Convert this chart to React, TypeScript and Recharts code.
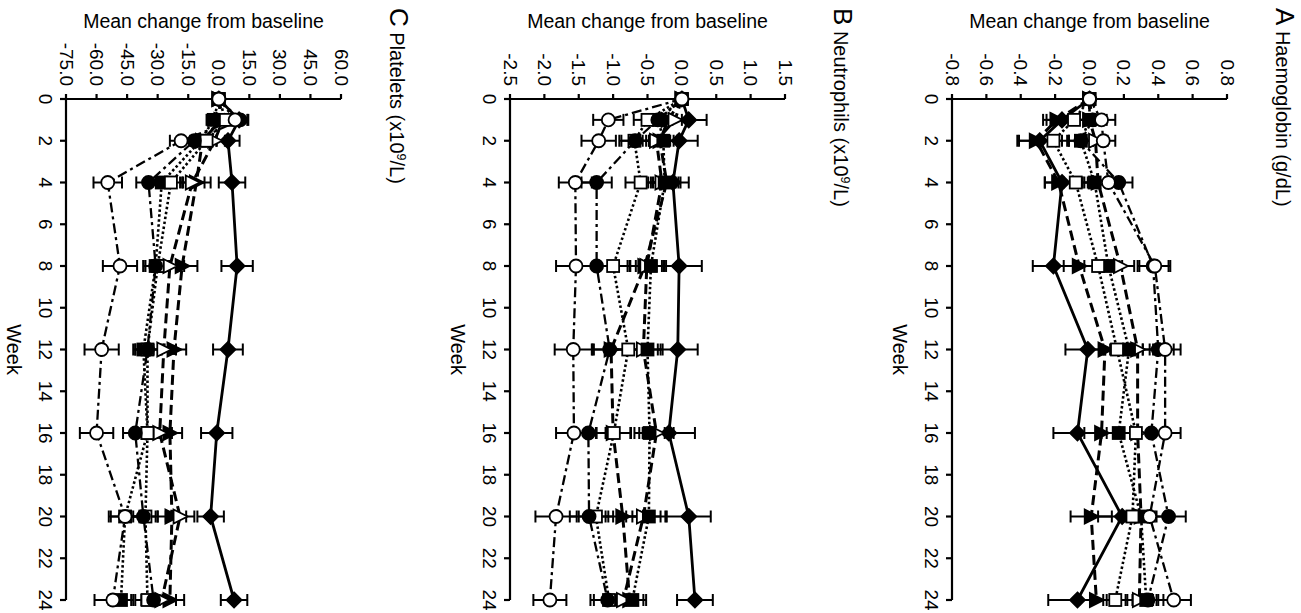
import React from 'react';
import { ComposedChart, Line, XAxis, YAxis, ErrorBar, Customized } from 'recharts';

const FONT = '"Liberation Sans", Arial, Helvetica, sans-serif';

// ---------- shared ----------
const weeks = [0, 1, 2, 4, 8, 12, 16, 20, 24];
const weekTicks = [0, 2, 4, 6, 8, 10, 12, 14, 16, 18, 20, 22, 24];

// ---------- Panel A: Haemoglobin (g/dL) ----------
const hbTicks = [-0.8, -0.6, -0.4, -0.2, 0.0, 0.2, 0.4, 0.6, 0.8];
const hbD = [0, -0.16, -0.29, -0.16, -0.21, -0.01, -0.07, 0.19, -0.07];
const hbDErr = [0, 0.09, 0.13, 0.1, 0.12, 0.13, 0.14, 0.14, 0.17];
const hbFt = [0, -0.19, -0.31, -0.18, -0.06, 0.09, 0.07, 0.01, 0.04];
const hbFtErr = [0, 0.08, 0.1, 0.08, 0.09, 0.1, 0.1, 0.12, 0.1];
const hbOt = [0, 0.0, 0.035, 0.05, 0.18, 0.28, 0.28, 0.3, 0.29];
const hbOtErr = [0, 0.08, 0.07, 0.08, 0.08, 0.09, 0.08, 0.09, 0.08];
const hbFs = [0, 0.0, -0.05, 0.03, 0.11, 0.23, 0.17, 0.3, 0.33];
const hbFsErr = [0, 0.07, 0.07, 0.07, 0.08, 0.08, 0.07, 0.08, 0.07];
const hbOs = [0, -0.09, -0.21, -0.08, 0.05, 0.16, 0.27, 0.25, 0.15];
const hbOsErr = [0, 0.07, 0.08, 0.07, 0.08, 0.08, 0.08, 0.08, 0.07];
const hbFc = [0, 0.02, -0.05, 0.17, 0.37, 0.4, 0.36, 0.46, 0.34];
const hbFcErr = [0, 0.08, 0.07, 0.08, 0.09, 0.09, 0.09, 0.1, 0.09];
const hbOc = [0, 0.07, 0.08, 0.11, 0.38, 0.44, 0.44, 0.35, 0.49];
const hbOcErr = [0, 0.08, 0.07, 0.08, 0.09, 0.09, 0.09, 0.09, 0.1];

// ---------- Panel B: Neutrophils (x10^9/L) ----------
const neTicks = [-2.5, -2.0, -1.5, -1.0, -0.5, 0.0, 0.5, 1.0, 1.5];
const neD = [0, 0.1, -0.04, -0.13, -0.04, -0.06, -0.19, 0.1, 0.19];
const neDErr = [0, 0.26, 0.27, 0.23, 0.33, 0.29, 0.38, 0.32, 0.26];
const neFt = [0, -0.2, -0.32, -0.22, -0.54, -1.03, -1.0, -0.86, -0.76];
const neFtErr = [0, 0.2, 0.2, 0.2, 0.25, 0.25, 0.25, 0.25, 0.2];
const neOt = [0, -0.1, -0.37, -0.29, -0.51, -0.56, -0.37, -0.56, -0.85];
const neOtErr = [0, 0.2, 0.2, 0.2, 0.25, 0.25, 0.25, 0.25, 0.2];
const neFs = [0, -0.34, -0.27, -0.25, -0.45, -0.5, -0.47, -0.48, -0.72];
const neFsErr = [0, 0.2, 0.2, 0.2, 0.22, 0.22, 0.22, 0.24, 0.2];
const neOs = [0, -0.5, -0.69, -0.6, -1.0, -0.78, -0.99, -1.25, -1.06];
const neOsErr = [0, 0.2, 0.22, 0.22, 0.25, 0.25, 0.25, 0.25, 0.22];
const neFc = [0, -0.35, -0.68, -1.24, -1.24, -1.05, -1.36, -1.35, -1.08];
const neFcErr = [0, 0.2, 0.2, 0.22, 0.28, 0.25, 0.25, 0.28, 0.25];
const neOc = [0, -1.07, -1.21, -1.55, -1.54, -1.58, -1.57, -1.83, -1.92];
const neOcErr = [0, 0.22, 0.25, 0.24, 0.29, 0.27, 0.26, 0.3, 0.24];

// ---------- Panel C: Platelets (x10^9/L) ----------
const plTicks = [-75, -60, -45, -30, -15, 0, 15, 30, 45, 60];
const plD = [0, 10, 4.5, 6.5, 9, 4.5, -1, -4, 7.5];
const plDErr = [0, 4, 5.7, 6.5, 7.7, 7.3, 7.7, 6.5, 6.5];
const plFt = [0, 1, -8, -11, -18, -22, -24, -23, -24];
const plFtErr = [0, 4, 5, 7, 7.5, 6, 6, 7, 7];
const plOt = [0, 2, -2, -13, -24, -27, -29, -19, -28];
const plOtErr = [0, 4, 5, 6, 7, 6, 6, 7, 7];
const plFs = [0, -2.5, -9, -28, -31, -37, -35, -46, -48];
const plFsErr = [0, 3.5, 5, 6, 6, 5, 6, 7, 6];
const plOs = [0, 3.5, -6, -23.5, -30, -35, -35, -36, -35];
const plOsErr = [0, 4, 5, 6, 6, 6, 6, 6, 6];
const plFc = [0, 10.5, -12, -34.5, -31, -35, -41, -37, -32];
const plFcErr = [0, 4, 5, 6, 6, 6, 6, 6, 6];
const plOc = [0, 8, -18.5, -54.5, -48.5, -57.5, -60, -46, -52];
const plOcErr = [0, 4, 5.5, 7, 8.4, 8.4, 8.2, 8, 9];

// ---------- series styles ----------
type Shape = 'diamond' | 'triangle' | 'square' | 'circle';
const SERIES: { key: string; shape: Shape; filled: boolean; dash?: string; width: number }[] = [
  { key: 'd', shape: 'diamond', filled: true, dash: undefined, width: 2.8 },
  { key: 'ft', shape: 'triangle', filled: true, dash: '10 5', width: 3 },
  { key: 'ot', shape: 'triangle', filled: false, dash: '10 5', width: 3 },
  { key: 'fs', shape: 'square', filled: true, dash: '2.5 2.5', width: 2.6 },
  { key: 'os', shape: 'square', filled: false, dash: '2.5 2.5', width: 2.6 },
  { key: 'fc', shape: 'circle', filled: true, dash: '10 4 3 4', width: 2.3 },
  { key: 'oc', shape: 'circle', filled: false, dash: '10 4 3 4', width: 2.3 },
];

function buildRows(vals: Record<string, number[]>, errs: Record<string, number[]>) {
  return weeks.map((w, i) => {
    const r: any = { week: w };
    SERIES.forEach((s) => {
      r[s.key] = vals[s.key][i];
      r[s.key + '_e'] = errs[s.key][i];
    });
    return r;
  });
}

const hbRows = buildRows(
  { d: hbD, ft: hbFt, ot: hbOt, fs: hbFs, os: hbOs, fc: hbFc, oc: hbOc },
  { d: hbDErr, ft: hbFtErr, ot: hbOtErr, fs: hbFsErr, os: hbOsErr, fc: hbFcErr, oc: hbOcErr }
);
const neRows = buildRows(
  { d: neD, ft: neFt, ot: neOt, fs: neFs, os: neOs, fc: neFc, oc: neOc },
  { d: neDErr, ft: neFtErr, ot: neOtErr, fs: neFsErr, os: neOsErr, fc: neFcErr, oc: neOcErr }
);
const plRows = buildRows(
  { d: plD, ft: plFt, ot: plOt, fs: plFs, os: plOs, fc: plFc, oc: plOc },
  { d: plDErr, ft: plFtErr, ot: plOtErr, fs: plFsErr, os: plOsErr, fc: plFcErr, oc: plOcErr }
);

// ---------- layout constants ----------
const CH_W = 415;
const CH_H = 613;
const AX_LEFT = 66;
const AX_TOP = 99;
const PLOT_W = 275;
const PLOT_H = 501;

function makeDot(shape: Shape, filled: boolean) {
  return (props: any) => {
    const { cx, cy, index } = props;
    const key = `dot-${index}`;
    if (cx == null || cy == null || isNaN(cx) || isNaN(cy)) return <g key={key} />;
    const fill = filled ? '#000' : '#fff';
    const sw = 1.8;
    if (shape === 'circle') {
      return <circle key={key} cx={cx} cy={cy} r={6.5} fill={fill} stroke="#000" strokeWidth={sw} />;
    }
    if (shape === 'square') {
      return <rect key={key} x={cx - 6} y={cy - 6} width={12} height={12} fill={fill} stroke="#000" strokeWidth={sw} />;
    }
    if (shape === 'diamond') {
      const pts = `${cx},${cy - 7.5} ${cx + 7.5},${cy} ${cx},${cy + 7.5} ${cx - 7.5},${cy}`;
      return <polygon key={key} points={pts} fill={fill} stroke="#000" strokeWidth={sw} />;
    }
    const pts = `${cx - 6.5},${cy - 7} ${cx + 7.5},${cy} ${cx - 6.5},${cy + 7}`;
    return <polygon key={key} points={pts} fill={fill} stroke="#000" strokeWidth={sw} />;
  };
}

const ValueTick = (props: any) => {
  const { x, payload } = props;
  const y = AX_TOP - 13;
  const v = Number(payload.value);
  const txt = Math.abs(v) < 1e-9 ? '0.0' : v.toFixed(1);
  return (
    <text
      x={x}
      y={y}
      transform={`rotate(90 ${x} ${y})`}
      textAnchor="end"
      dominantBaseline="central"
      fontSize={19}
      fontFamily={FONT}
      fill="#000"
    >
      {txt}
    </text>
  );
};

const WeekTick = (props: any) => {
  const { y, payload } = props;
  const x = AX_LEFT - 21;
  return (
    <text
      x={x}
      y={y}
      transform={`rotate(90 ${x} ${y})`}
      textAnchor="middle"
      dominantBaseline="central"
      fontSize={19}
      fontFamily={FONT}
      fill="#000"
    >
      {String(payload.value)}
    </text>
  );
};

const MeanLabel = () => (
  <text
    x={AX_LEFT + PLOT_W / 2}
    y={28}
    textAnchor="middle"
    fontSize={19.5}
    fontFamily={FONT}
    fill="#000"
  >
    Mean change from baseline
  </text>
);

const WeekLabel = () => {
  const x = 14;
  const y = AX_TOP + PLOT_H / 2;
  return (
    <text
      x={x}
      y={y}
      transform={`rotate(90 ${x} ${y})`}
      textAnchor="middle"
      dominantBaseline="central"
      fontSize={20}
      fontFamily={FONT}
      fill="#000"
    >
      Week
    </text>
  );
};

function makeTitle(letter: string, name: string, unit: string, sup: string, unitEnd: string) {
  return () => {
    const x = 390;
    const y = 8;
    return (
      <text
        x={x}
        y={y}
        transform={`rotate(90 ${x} ${y})`}
        textAnchor="start"
        fontFamily={FONT}
        fill="#000"
      >
        <tspan fontSize={26}>{letter}</tspan>
        <tspan fontSize={20}>{' ' + name + ' ' + unit}</tspan>
        {sup ? (
          <tspan fontSize={12.5} dy={-7}>
            {sup}
          </tspan>
        ) : null}
        <tspan fontSize={20} dy={sup ? 7 : 0}>
          {unitEnd}
        </tspan>
      </text>
    );
  };
}

type PanelProps = {
  left: number;
  rows: any[];
  domain: [number, number];
  ticks: number[];
  Title: any;
};

function Panel({ left, rows, domain, ticks, Title }: PanelProps) {
  return (
    <div style={{ position: 'absolute', left, top: 0, width: CH_W, height: CH_H }}>
      <ComposedChart
        width={CH_W}
        height={CH_H}
        data={rows}
        layout="vertical"
        margin={{ top: 0, right: CH_W - AX_LEFT - PLOT_W, bottom: CH_H - AX_TOP - PLOT_H, left: 0 }}
      >
        <XAxis
          type="number"
          orientation="top"
          domain={domain}
          ticks={ticks}
          interval={0}
          height={AX_TOP}
          axisLine={{ stroke: '#000', strokeWidth: 2.2 }}
          tickLine={{ stroke: '#000', strokeWidth: 2.2 }}
          tickSize={5}
          tick={ValueTick}
          label={MeanLabel}
        />
        <YAxis
          type="number"
          dataKey="week"
          domain={[0, 24]}
          ticks={weekTicks}
          interval={0}
          width={AX_LEFT}
          axisLine={{ stroke: '#000', strokeWidth: 2.2 }}
          tickLine={{ stroke: '#000', strokeWidth: 2.2 }}
          tickSize={6}
          tick={WeekTick}
          label={WeekLabel}
        />
        {SERIES.map((s) => (
          <Line
            key={s.key}
            type="linear"
            dataKey={s.key}
            stroke="#000"
            strokeWidth={s.width}
            strokeDasharray={s.dash}
            dot={makeDot(s.shape, s.filled)}
            activeDot={false}
            isAnimationActive={false}
            legendType="none"
          >
            <ErrorBar dataKey={s.key + '_e'} direction="x" width={6} stroke="#000" strokeWidth={2} isAnimationActive={false} />
          </Line>
        ))}
        <Customized component={Title} />
      </ComposedChart>
    </div>
  );
}

const TitleC = makeTitle('C', 'Platelets', '(x10', '9', '/L)');
const TitleB = makeTitle('B', 'Neutrophils', '(x10', '9', '/L)');
const TitleA = makeTitle('A', 'Haemoglobin', '(g/dL)', '', '');

export default function App() {
  return (
    <div
      style={{
        position: 'absolute',
        left: 0,
        top: 0,
        width: 1301,
        height: 613,
        overflow: 'hidden',
        background: '#fff',
        fontFamily: FONT,
      }}
    >
      <Panel left={0} rows={plRows} domain={[-75, 60]} ticks={plTicks} Title={TitleC} />
      <Panel left={444} rows={neRows} domain={[-2.5, 1.5]} ticks={neTicks} Title={TitleB} />
      <Panel left={886} rows={hbRows} domain={[-0.8, 0.8]} ticks={hbTicks} Title={TitleA} />
    </div>
  );
}
